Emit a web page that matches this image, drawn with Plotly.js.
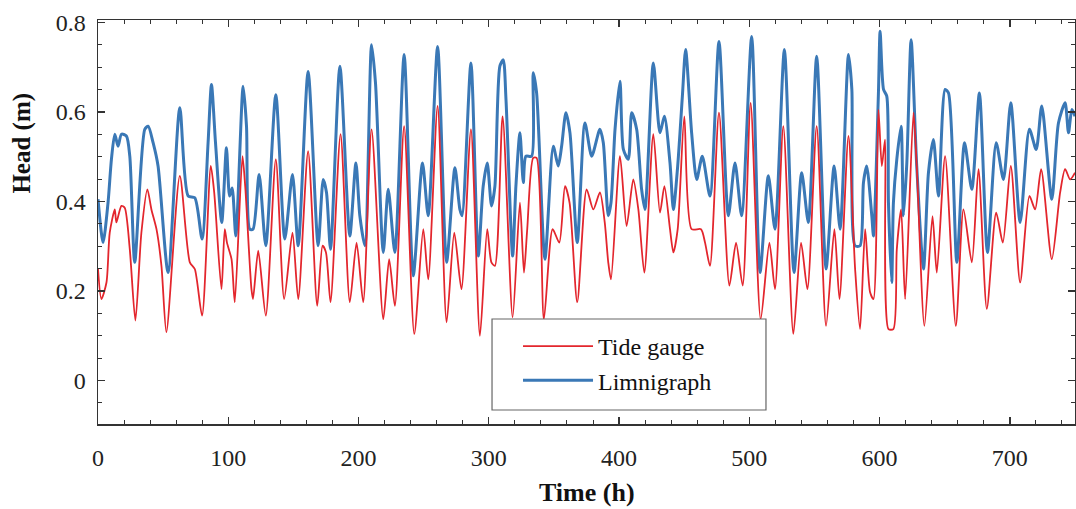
<!DOCTYPE html>
<html>
<head>
<meta charset="utf-8">
<script src="https://cdn.plot.ly/plotly-3.0.1.min.js"></script>
<style>html,body{margin:0;padding:0;background:#fff;}#chart{width:1076px;height:509px;}</style>
</head>
<body>
<div id="chart"></div>
<script>
// Tide gauge (red) – time (h) and head (m), read at turning points
const tideTime = [0,2.6,6.5,9,12.9,14.1,18,20.5,24.4,28.7,33.3,37.9,41,44.9,48.7,52.5,62.8,70.5,74.3,79.9,86.6,89.2,94.8,97.3,99,102.5,105,110.9,113,117.8,119,123,128.8,136.5,142.9,149.3,153.7,161.3,168.3,172.4,175,178.5,186.2,193.3,198.5,203.6,210,219,223.5,227.9,235,242.8,249.7,253.5,260.7,267.6,273.5,279,286.3,293.2,298.8,302,304.7,310.6,318.3,323.9,327,329.5,334.1,336.7,342.3,349,354.1,358.5,362,367.9,375.1,380.2,385.3,389,391.7,393.8,400.7,405.8,410.9,414.8,419.4,426.3,431.4,434.8,439.1,441.7,445,450.1,455.7,462.9,466,469.8,476.7,484.7,489.8,494.9,501,508.7,515.4,519.7,526.1,533.8,539.7,544.6,551.7,558.9,565.3,569.2,576.1,581.2,585,588.9,592.7,595.3,599.1,601.7,604.2,606.8,610.6,613.2,616.5,619.6,626,628.5,634.4,640.6,643.9,650.3,658.5,664.4,670.8,675.9,682.3,689.5,694.6,700.7,707.9,715,719.4,724,732.2,738.6,742.4,746.3,750];
const tideHead = [0.249,0.182,0.219,0.33,0.382,0.353,0.39,0.386,0.293,0.134,0.33,0.427,0.382,0.338,0.256,0.108,0.457,0.264,0.249,0.145,0.479,0.42,0.204,0.338,0.308,0.271,0.175,0.501,0.434,0.204,0.182,0.29,0.145,0.494,0.182,0.33,0.182,0.512,0.167,0.301,0.286,0.175,0.55,0.175,0.308,0.175,0.561,0.137,0.271,0.167,0.568,0.104,0.338,0.226,0.613,0.13,0.33,0.204,0.561,0.1,0.338,0.264,0.256,0.59,0.141,0.397,0.241,0.338,0.497,0.497,0.137,0.338,0.308,0.434,0.397,0.175,0.427,0.382,0.42,0.353,0.264,0.226,0.501,0.345,0.449,0.382,0.241,0.55,0.375,0.434,0.338,0.286,0.338,0.59,0.338,0.338,0.308,0.256,0.598,0.212,0.308,0.212,0.62,0.137,0.308,0.204,0.568,0.104,0.308,0.204,0.568,0.122,0.338,0.182,0.546,0.249,0.115,0.338,0.197,0.182,0.605,0.479,0.538,0.115,0.115,0.293,0.382,0.182,0.598,0.479,0.122,0.367,0.241,0.501,0.122,0.382,0.264,0.472,0.16,0.375,0.308,0.479,0.219,0.412,0.382,0.472,0.271,0.42,0.472,0.449,0.464];

// Limnigraph (blue)
const limnTime = [0,3.9,7.7,10.3,12.9,15.4,18,21.8,24.4,28.2,35.9,38.5,42.3,46.1,53.8,62.8,69.2,74.3,79.9,84.5,87.1,90.2,95,98.6,101,103,105.8,111.4,114,116.5,119,123.7,128.8,136.5,143.4,149.3,153.7,161.3,169,172.9,175.4,178.5,185.7,193.3,198,201,204.9,210,213,219,222.8,227.9,235,242,249.1,253.5,260.7,267.6,274,277.8,279.5,286.3,291.9,295.7,298.8,302.1,304.7,308.5,311.1,313.2,318.3,320.8,323.9,326.5,328.5,332.9,334.1,336.7,343.1,349.5,353.3,355.9,359.2,362.3,367.9,373.8,379,385.3,387.9,391.7,393.8,396.9,400.7,403.3,407.1,409.7,413.5,417.3,419.9,426.3,431.4,434.8,439.1,441.7,445,448.6,451.1,455.7,459.6,463.9,469.8,476.7,483.9,489,494.1,501.8,508.2,514.6,519.7,526.9,534.3,540.2,545.3,551.7,558.9,565.1,569.7,576.1,578.7,581.2,585,587.6,590.1,594,595.3,599.1,600.4,603,605.5,606.8,609.3,610.6,613.2,616.5,618.3,620.9,624.2,628.5,633.7,637.5,641.3,645.2,650.3,652.9,659.3,665.2,670.8,676.6,682.8,689.5,695.1,700.7,707.9,715,720.2,724.5,732.2,737.3,742.4,745,747.6,750];
const limnHead = [0.405,0.308,0.397,0.494,0.55,0.523,0.55,0.546,0.501,0.264,0.561,0.568,0.531,0.479,0.241,0.609,0.412,0.408,0.316,0.531,0.661,0.531,0.353,0.52,0.412,0.43,0.323,0.657,0.568,0.338,0.338,0.46,0.301,0.638,0.316,0.46,0.301,0.69,0.301,0.449,0.42,0.293,0.702,0.323,0.486,0.368,0.301,0.75,0.665,0.286,0.427,0.286,0.728,0.234,0.486,0.368,0.746,0.264,0.475,0.382,0.368,0.709,0.278,0.434,0.486,0.39,0.434,0.702,0.716,0.627,0.278,0.434,0.553,0.442,0.501,0.501,0.687,0.642,0.271,0.523,0.479,0.523,0.598,0.553,0.308,0.575,0.501,0.561,0.531,0.368,0.397,0.561,0.668,0.516,0.494,0.598,0.561,0.427,0.382,0.709,0.553,0.59,0.486,0.382,0.479,0.635,0.739,0.553,0.449,0.501,0.412,0.757,0.368,0.486,0.368,0.768,0.241,0.457,0.338,0.739,0.241,0.464,0.353,0.724,0.249,0.479,0.338,0.728,0.65,0.301,0.301,0.442,0.479,0.368,0.323,0.642,0.78,0.65,0.635,0.397,0.219,0.397,0.494,0.568,0.368,0.486,0.761,0.479,0.249,0.464,0.538,0.412,0.65,0.642,0.264,0.531,0.427,0.642,0.286,0.531,0.449,0.62,0.353,0.561,0.516,0.613,0.405,0.575,0.62,0.553,0.605,0.59];

const xTicks = [0,100,200,300,400,500,600,700];
const yTicks = [0,0.2,0.4,0.6,0.8];

const serif = '"Liberation Serif","Times New Roman",serif';
const axisCommon = {
  showline: true, linecolor: '#333', linewidth: 1.5, mirror: 'ticks',
  ticks: 'inside', ticklen: 7, tickwidth: 1.4, tickcolor: '#333',
  showgrid: false, zeroline: false,
  tickfont: {family: serif, size: 24, color: '#222'}
};

const data = [
  {x: limnTime, y: limnHead, name: 'Limnigraph', type: 'scatter', mode: 'lines',
   line: {color: '#3a78b6', width: 3, shape: 'spline', smoothing: 0.7}, showlegend: true, legendrank: 2},
  {x: tideTime, y: tideHead, name: 'Tide gauge', type: 'scatter', mode: 'lines',
   line: {color: '#e3262d', width: 1.8, shape: 'spline', smoothing: 0.7}, showlegend: true, legendrank: 1}
];

const layout = {
  width: 1076, height: 509,
  margin: {l: 98, r: 1, t: 20, b: 85},
  paper_bgcolor: '#fff', plot_bgcolor: '#fff',
  xaxis: Object.assign({}, axisCommon, {
    range: [0, 750], tickvals: xTicks, ticktext: xTicks.map(String),
    ticklabelstandoff: 12,
    minor: {ticks: 'inside', dtick: 20, tick0: 0, ticklen: 4, tickwidth: 1, tickcolor: '#333'}
  }),
  yaxis: Object.assign({}, axisCommon, {
    range: [-0.097, 0.805], tickvals: yTicks, ticktext: yTicks.map(String),
    ticklabelstandoff: 6,
    minor: {ticks: 'inside', dtick: 0.05, tick0: 0, ticklen: 4, tickwidth: 1, tickcolor: '#333'}
  }),
  shapes: [
    {type: 'rect', xref: 'paper', yref: 'paper', x0: 0.4033, x1: 0.6837, y0: 0.0347, y1: 0.2599,
     layer: 'above', fillcolor: '#fff', line: {color: '#666', width: 1.2}}
  ],
  legend: {
    x: 0.4299, y: 0.2475, xanchor: 'left', yanchor: 'top',
    bgcolor: 'rgba(0,0,0,0)', borderwidth: 0,
    font: {family: serif, size: 24, color: '#111'},
    itemwidth: 70, traceorder: 'normal'
  },
  annotations: [
    {text: '<b>Time (h)</b>', xref: 'paper', yref: 'paper', x: 0.5, y: 0, yshift: -68,
     xanchor: 'center', yanchor: 'middle', showarrow: false,
     font: {family: serif, size: 26, color: '#111'}},
    {text: '<b>Head (m)</b>', xref: 'paper', yref: 'paper', x: 0, xshift: -76, y: 0.694,
     xanchor: 'center', yanchor: 'middle', showarrow: false, textangle: -90,
     font: {family: serif, size: 25, color: '#111'}}
  ]
};

Plotly.newPlot('chart', data, layout, {displayModeBar: false, staticPlot: true});
</script>
</body>
</html>
